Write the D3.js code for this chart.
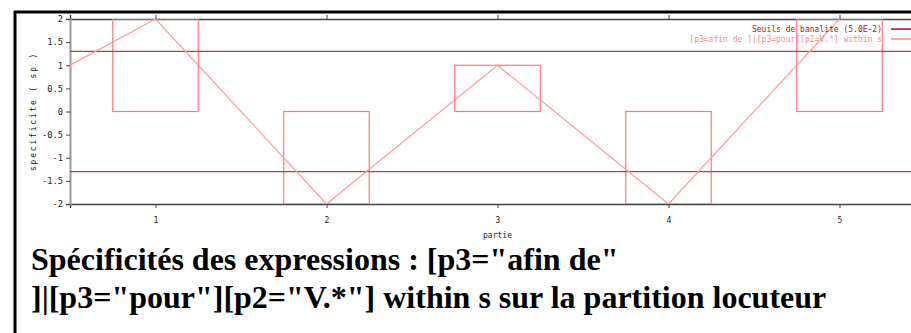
<!DOCTYPE html>
<html><head><meta charset="utf-8">
<script src="https://cdn.jsdelivr.net/npm/d3@7"></script>
<style>
html,body{margin:0;padding:0;background:#fff;overflow:hidden}
svg{display:block}
</style></head>
<body>
<svg id="c" width="911" height="333"></svg>
<script>
const parties = [1, 2, 3, 4, 5];
const specificites = [2, -2, 1, -2, 2];
const lineParties = [0, 1, 2, 3, 4, 5];
const lineValues = [0, 2, -2, 1, -2, 2];
const seuils = [1.3, -1.3];
const yTicks = [2, 1.5, 1, 0.5, 0, -0.5, -1, -1.5, -2];
const xTicks = [1, 2, 3, 4, 5];
const legendLabels = ["Seuils de banalite (5.0E-2)", "[p3=afin de ]|[p3=pour][p2=V.*] within s"];
const titleLines = ["Spécificités des expressions : [p3=\"afin de\"", "]|[p3=\"pour\"][p2=\"V.*\"] within s sur la partition locuteur"];
const xLabel = "partie";
const yLabel = "specificite ( sp )";

const svg = d3.select("#c");
const x = d3.scaleLinear().domain([0.5, 5.5]).range([70, 925]);
const y = d3.scaleLinear().domain([-2, 2]).range([204, 19]);
const mono = "'DejaVu Sans Mono', monospace";

// frame
svg.append("line").attr("x1",15).attr("x2",15).attr("y1",11).attr("y2",333).attr("stroke","#000").attr("stroke-width",3);
svg.append("line").attr("x1",14).attr("x2",911).attr("y1",12).attr("y2",12).attr("stroke","#000").attr("stroke-width",3);

svg.append("clipPath").attr("id","pc").append("rect")
  .attr("x",x.range()[0]).attr("y",y.range()[1]).attr("width",x.range()[1]-x.range()[0]).attr("height",y.range()[0]-y.range()[1]);

// axes
const gBottom = svg.append("g").attr("transform",`translate(0,${y(-2)})`)
  .call(d3.axisBottom(x).tickValues(xTicks).tickSize(4).tickPadding(9).tickFormat(d3.format("d")));
const gTop = svg.append("g").attr("transform",`translate(0,${y(2)})`)
  .call(d3.axisTop(x).tickValues(xTicks).tickSize(4).tickFormat(""));
const gLeft = svg.append("g").attr("transform",`translate(${x(0.5)},0)`)
  .call(d3.axisLeft(y).tickValues(yTicks).tickSize(4).tickPadding(3).tickFormat(d => String(d)));
[gBottom, gTop, gLeft].forEach(g => {
  g.select(".domain").attr("stroke","#444").attr("stroke-width",1.5);
  g.selectAll(".tick line").attr("stroke","#444");
  g.selectAll("text").attr("font-family",mono).attr("font-size",8).attr("fill","#222");
});
gLeft.select(".domain").attr("stroke","#999").attr("stroke-width",2);
gLeft.selectAll("text").attr("font-size",8.7);

const plot = svg.append("g").attr("clip-path","url(#pc)");

// bars
plot.selectAll("rect.bar").data(parties).join("rect")
  .attr("x", (d) => x(d - 0.25))
  .attr("width", (d) => x(d + 0.25) - x(d - 0.25))
  .attr("y", (d,i) => y(Math.max(0, specificites[i])))
  .attr("height", (d,i) => Math.abs(y(specificites[i]) - y(0)))
  .attr("fill","none").attr("stroke","#ff7a7a").attr("stroke-width",1.2);

// thresholds
plot.selectAll("line.seuil").data(seuils).join("line")
  .attr("x1", x.range()[0]).attr("x2", x.range()[1])
  .attr("y1", d => y(d)).attr("y2", d => y(d))
  .attr("stroke","#c83838").attr("stroke-width",1.3);

// line
plot.append("path")
  .datum(lineParties.map((p,i)=>[p, lineValues[i]]))
  .attr("d", d3.line().x(d=>x(d[0])).y(d=>y(d[1])))
  .attr("fill","none").attr("stroke","#ff9a9a").attr("stroke-width",1.2);

// legend
const legColors = ["#b01010", "#ff8888"];
const leg = svg.append("g");
legendLabels.forEach((t,i) => {
  const yy = 29 + i*10;
  leg.append("text").attr("x",882).attr("y",yy+3).attr("text-anchor","end")
    .attr("font-family",mono).attr("font-size",8).attr("fill",legColors[i]).text(t);
  leg.append("line").attr("x1",891).attr("x2",915).attr("y1",yy).attr("y2",yy)
    .attr("stroke",legColors[i]).attr("stroke-width",1.5);
});

// axis labels
svg.append("text").attr("x",x(3)).attr("y",238).attr("text-anchor","middle")
  .attr("font-family",mono).attr("font-size",8).attr("fill","#222").text(xLabel);
svg.append("text").attr("transform",`translate(36,${y(0)}) rotate(-90)`).attr("text-anchor","middle")
  .attr("font-family",mono).attr("font-size",8).attr("letter-spacing",1.8).attr("fill","#222").text(yLabel);

// title
titleLines.forEach((t,i) => {
  svg.append("text").attr("x",31).attr("y",270 + i*38)
    .attr("font-family","'Liberation Serif', 'Times New Roman', serif").attr("font-weight","bold")
    .attr("font-size",32).attr("fill","#000").text(t);
});
</script>
</body></html>
